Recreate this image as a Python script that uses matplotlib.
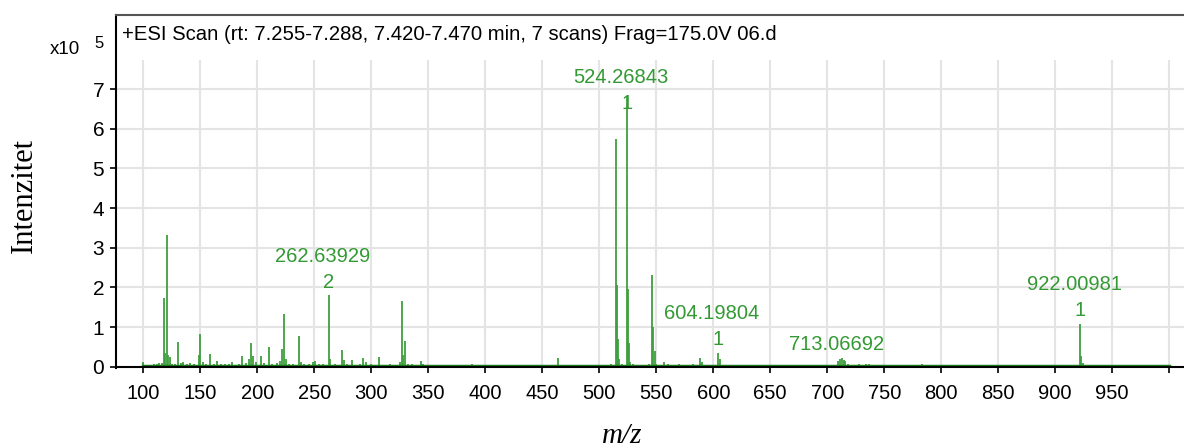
import matplotlib
matplotlib.use('Agg')
import matplotlib.pyplot as plt

# stick spectrum, intensity in units of 1e5 counts
peak_mz = [100.0, 105, 109, 112, 114, 116, 118.1, 119, 121.1, 122, 123, 125, 128, 130.7, 133, 135,
           138, 141, 144, 148.5, 149.7, 152, 155, 158.5, 162, 165, 168, 172, 175, 178, 181, 184,
           186.3, 190, 192.5, 194.5, 196, 199, 203, 206, 210.3, 213, 217, 220, 222, 223.7, 225,
           228, 231, 236.3, 238, 241, 245, 249, 251, 254, 258, 262.64, 264, 268, 271, 274, 276,
           279, 283, 287, 290, 293, 295, 300, 303, 307, 311, 316, 320, 325, 326.7, 328, 329.6,
           332, 336, 340, 343.6, 345, 350, 356, 362, 368, 374, 381, 388, 395, 402, 410, 418, 425,
           430, 437, 445, 452, 458, 463.5, 470, 478, 485, 492, 500, 506, 510, 514.4, 515.2, 516.2,
           517, 520, 524.27, 525.2, 526.2, 527.2, 530, 535, 540, 544, 546.6, 547.5, 548.5, 550,
           556.4, 560, 565, 570, 576, 582, 588.3, 590, 595, 600, 604.2, 606, 610, 616, 622, 630,
           638, 645, 652, 660, 668, 676, 684, 692, 700, 706, 709.5, 711, 713.07, 714.5, 716, 718,
           722, 728, 734, 737, 742, 750, 758, 766, 775, 783, 790, 800, 810, 820, 830, 840, 850,
           860, 870, 880, 890, 900, 910, 918, 922.01, 923, 924, 930, 940, 950, 960, 970, 980,
           990, 1000]
peak_int = [0.12, 0.05, 0.06, 0.08, 0.10, 0.10, 1.73, 0.35, 3.33, 0.30, 0.25, 0.08, 0.07, 0.62, 0.10, 0.12,
            0.08, 0.10, 0.06, 0.30, 0.82, 0.12, 0.07, 0.33, 0.08, 0.15, 0.08, 0.06, 0.07, 0.12, 0.05, 0.08,
            0.28, 0.10, 0.20, 0.60, 0.28, 0.12, 0.28, 0.10, 0.50, 0.08, 0.10, 0.15, 0.45, 1.33, 0.20,
            0.08, 0.06, 0.78, 0.12, 0.08, 0.06, 0.12, 0.15, 0.06, 0.08, 1.80, 0.20, 0.06, 0.05, 0.42, 0.18,
            0.06, 0.18, 0.05, 0.06, 0.22, 0.12, 0.08, 0.05, 0.25, 0.05, 0.06, 0.05, 0.12, 1.66, 0.30, 0.65,
            0.08, 0.06, 0.05, 0.15, 0.08, 0.05, 0.04, 0.04, 0.04, 0.05, 0.04, 0.06, 0.05, 0.04, 0.05, 0.04, 0.04,
            0.05, 0.04, 0.05, 0.04, 0.05, 0.21, 0.04, 0.05, 0.04, 0.04, 0.05, 0.05, 0.08, 5.75, 2.07, 0.70,
            0.20, 0.08, 6.80, 1.96, 0.60, 0.12, 0.06, 0.05, 0.05, 0.06, 2.32, 1.01, 0.40, 0.08,
            0.12, 0.06, 0.05, 0.06, 0.05, 0.06, 0.22, 0.12, 0.05, 0.05, 0.36, 0.20, 0.05, 0.04, 0.05, 0.04,
            0.04, 0.05, 0.04, 0.04, 0.04, 0.04, 0.05, 0.04, 0.04, 0.05, 0.15, 0.20, 0.22, 0.18, 0.15, 0.08,
            0.05, 0.06, 0.07, 0.06, 0.04, 0.04, 0.04, 0.04, 0.04, 0.06, 0.04, 0.04, 0.04, 0.04, 0.04, 0.04, 0.04,
            0.04, 0.04, 0.04, 0.04, 0.04, 0.04, 0.05, 1.09, 0.28, 0.10, 0.04, 0.04, 0.04, 0.04, 0.04, 0.04,
            0.04, 0.04]

# annotated peaks
label_mz = [262.63929, 524.26843, 604.19804, 713.06692, 922.00981]
label_charge = ['2', '1', '1', '', '1']

title = '+ESI Scan (rt: 7.255-7.288, 7.420-7.470 min, 7 scans) Frag=175.0V 06.d'
x_ticks = list(range(100, 1001, 50))
x_ticklabels = [str(v) for v in x_ticks[:-1]] + ['']
y_ticks = list(range(0, 8))

W, H = 1184, 448
fig = plt.figure(figsize=(W / 100, H / 100), dpi=100)
ax = fig.add_axes([116 / W, 1 - 368 / H, 1 - 116 / W, (368 - 15) / H])

green = '#339933'
sans = 'Liberation Sans'
ax.set_xlim(76, 1013)
ax.set_ylim(-0.03, 8.87)

# grid
for y in y_ticks[1:]:
    ax.axhline(y, color='#e4e4e4', lw=1.5, zorder=0)
ax.vlines(x_ticks, 0, 7.73, color='#e4e4e4', lw=1.5, zorder=0)

# spectrum
ax.vlines(peak_mz, 0, peak_int, color='#3f9f3f', lw=1.3, zorder=2)
ax.plot([min(peak_mz), max(peak_mz)], [0.02, 0.02], color='#1d7d1d', lw=2.5, zorder=2)

# labels
for mz, ch in zip(label_mz, label_charge):
    i = min(range(len(peak_mz)), key=lambda k: abs(peak_mz[k] - mz))
    ytop = min(peak_int[i] + 0.33, 6.65)
    if ch:
        ax.annotate(ch, (mz, ytop), ha='center', va='center', color=green,
                    fontsize=14.5, family=sans, zorder=3)
        ax.annotate(f'{mz:.5f}', (mz, ytop), xytext=(-6, 26), textcoords='offset pixels',
                    ha='center', va='center', color=green, fontsize=14.5,
                    family=sans, zorder=3)
    else:
        ax.annotate(f'{mz:.5f}', (mz, ytop), xytext=(-6, 0), textcoords='offset pixels',
                    ha='center', va='center', color=green, fontsize=14.5,
                    family=sans, zorder=3)

# axes styling
ax.spines['right'].set_visible(False)
ax.spines['top'].set_color('#555555')
ax.spines['top'].set_linewidth(1.5)
ax.spines['left'].set_linewidth(1.5)
ax.spines['bottom'].set_linewidth(1.5)
ax.spines['bottom'].set_position(('data', 0))
ax.set_xticks(x_ticks)
ax.set_xticklabels(x_ticklabels)
ax.set_yticks(y_ticks)
ax.tick_params(axis='x', length=4.5, width=1.2, pad=8, labelsize=14.5)
ax.tick_params(axis='y', length=4.5, width=1.2, pad=4, labelsize=15)
for lab in ax.get_xticklabels() + ax.get_yticklabels():
    lab.set_family(sans)

fig.text(122 / W, 1 - 34 / H, title, ha='left', va='center', fontsize=14.6, family=sans)
fig.text(65 / W, 1 - 49 / H, 'x10', ha='center', va='center', fontsize=13.5, family=sans)
fig.text(99 / W, 1 - 44 / H, '5', ha='center', va='center', fontsize=12, family=sans)
fig.text(24 / W, 1 - 195 / H, 'Intenzitet', rotation=90, ha='center', va='center',
         fontsize=22, family='Liberation Serif')
fig.text(622 / W, 1 - 443 / H, 'm/z', ha='center', va='baseline', fontsize=21,
         family='Liberation Serif', style='italic')

fig.savefig('out.png', dpi=100)
